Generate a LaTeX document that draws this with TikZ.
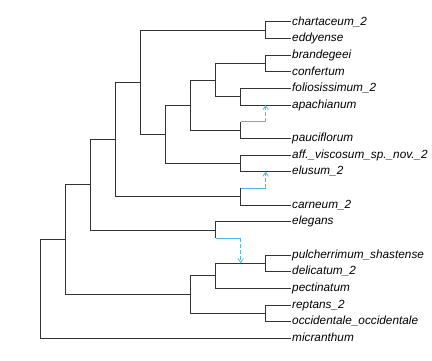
\documentclass[tikz,border=0pt]{standalone}
\usepackage{fontspec}
\setmainfont{Liberation Sans}
\usetikzlibrary{arrows.meta}
\definecolor{hybblue}{RGB}{80,185,240}

\begin{document}
\begin{tikzpicture}[
  x=1pt, y=-1pt,
  branch/.style={
    draw=black!80,
    line width=0.8pt
  },
  taxon/.style={
    anchor=west,
    inner sep=1pt,
    text height=6.6pt,
    text depth=0pt,
    font=\fontsize{11.8}{12}\selectfont\itshape
  },
  hybrid/.style={
    draw=hybblue,
    line width=0.8pt
  },
  flow/.style={
    hybrid,
    dash pattern=on 4pt off 2pt,
    -{Straight Barb[length=4pt,width=5.5pt]}
  }
]

\path[use as bounding box] (0,0) rectangle (432,360);

% taxa
\node[taxon] (chart)   at (291,21.7)  {chartaceum\_2};
\node[taxon] (eddy)    at (291,38.4)  {eddyense};
\node[taxon] (brand)   at (291,55.0)  {brandegeei};
\node[taxon] (confert) at (291,71.7)  {confertum};
\node[taxon] (folio)   at (291,88.3)  {foliosissimum\_2};
\node[taxon] (apach)   at (291,105.0) {apachianum};
\node[taxon] (pauci)   at (291,138.3) {pauciflorum};
\node[taxon] (visc)    at (291,155.0) {aff.\_viscosum\_sp.\_nov.\_2};
\node[taxon] (elus)    at (291,171.6) {elusum\_2};
\node[taxon] (carn)    at (291,205.0) {carneum\_2};
\node[taxon] (eleg)    at (291,221.6) {elegans};
\node[taxon] (pulch)   at (291,255.0) {pulcherrimum\_shastense};
\node[taxon] (delic)   at (291,271.6) {delicatum\_2};
\node[taxon] (pect)    at (291,288.3) {pectinatum};
\node[taxon] (rept)    at (291,304.9) {reptans\_2};
\node[taxon] (occid)   at (291,321.6) {occidentale\_occidentale};
\node[taxon] (micr)    at (291,338.3) {micranthum};

% internal nodes
\coordinate (nA) at (265.7,30.0);
\coordinate (nB) at (265.7,63.3);
\coordinate (nC) at (240.7,96.7);
\coordinate (nD) at (215.7,80.0);
\coordinate (nE) at (240.7,130.0);
\coordinate (nF) at (190.7,105.0);
\coordinate (nG) at (240.7,163.3);
\coordinate (nH) at (165.7,134.2);
\coordinate (nI) at (140.7,82.1);
\coordinate (nJ) at (240.7,196.7);
\coordinate (nK) at (115.7,139.4);
\coordinate (nL) at (215.7,230.0);
\coordinate (nM) at (265.7,263.3);
\coordinate (nN) at (215.7,275.7);
\coordinate (nO) at (265.7,313.3);
\coordinate (nP) at (190.7,294.5);
\coordinate (nQ) at (90.7,184.7);
\coordinate (nR) at (65.7,239.6);
\coordinate (root) at (40.7,289.0);

% hybrid sources
\coordinate (h1) at (265.7,121.7);
\coordinate (h2) at (265.7,188.3);
\coordinate (h3) at (240.7,238.3);

\draw[branch] (nA) |- (chart.west);
\draw[branch] (nA) |- (eddy.west);
\draw[branch] (nB) |- (brand.west);
\draw[branch] (nB) |- (confert.west);
\draw[branch] (nC) |- (folio.west);
\draw[branch] (nC) |- (apach.west);
\draw[branch] (nD) |- (nB);
\draw[branch] (nD) |- (nC);
\draw[branch] (nE) -- (nE |- h1);
\draw[branch] (nE) |- (pauci.west);
\draw[branch] (nF) |- (nD);
\draw[branch] (nF) |- (nE);
\draw[branch] (nG) |- (visc.west);
\draw[branch] (nG) |- (elus.west);
\draw[branch] (nH) |- (nF);
\draw[branch] (nH) |- (nG);
\draw[branch] (nI) |- (nA);
\draw[branch] (nI) |- (nH);
\draw[branch] (nJ) -- (nJ |- h2);
\draw[branch] (nJ) |- (carn.west);
\draw[branch] (nK) |- (nI);
\draw[branch] (nK) |- (nJ);
\draw[branch] (nL) |- (eleg.west);
\draw[branch] (nL) -- (nL |- h3);
\draw[branch] (nM) |- (pulch.west);
\draw[branch] (nM) |- (delic.west);
\draw[branch] (nN) |- (nM);
\draw[branch] (nN) |- (pect.west);
\draw[branch] (nO) |- (rept.west);
\draw[branch] (nO) |- (occid.west);
\draw[branch] (nP) |- (nN);
\draw[branch] (nP) |- (nO);
\draw[branch] (nQ) |- (nK);
\draw[branch] (nQ) |- (nL);
\draw[branch] (nR) |- (nQ);
\draw[branch] (nR) |- (nP);
\draw[branch] (root) |- (nR);
\draw[branch] (root) |- (micr.west);

% reticulations
\draw[hybrid] (nE |- h1) -- (h1);
\draw[flow] (h1) -- (h1 |- apach);
\draw[hybrid] (nJ |- h2) -- (h2);
\draw[flow] (h2) -- (h2 |- elus);
\draw[hybrid] (nL |- h3) -- (h3);
\draw[flow] (h3) -- (h3 |- nM);

\end{tikzpicture}
\end{document}
